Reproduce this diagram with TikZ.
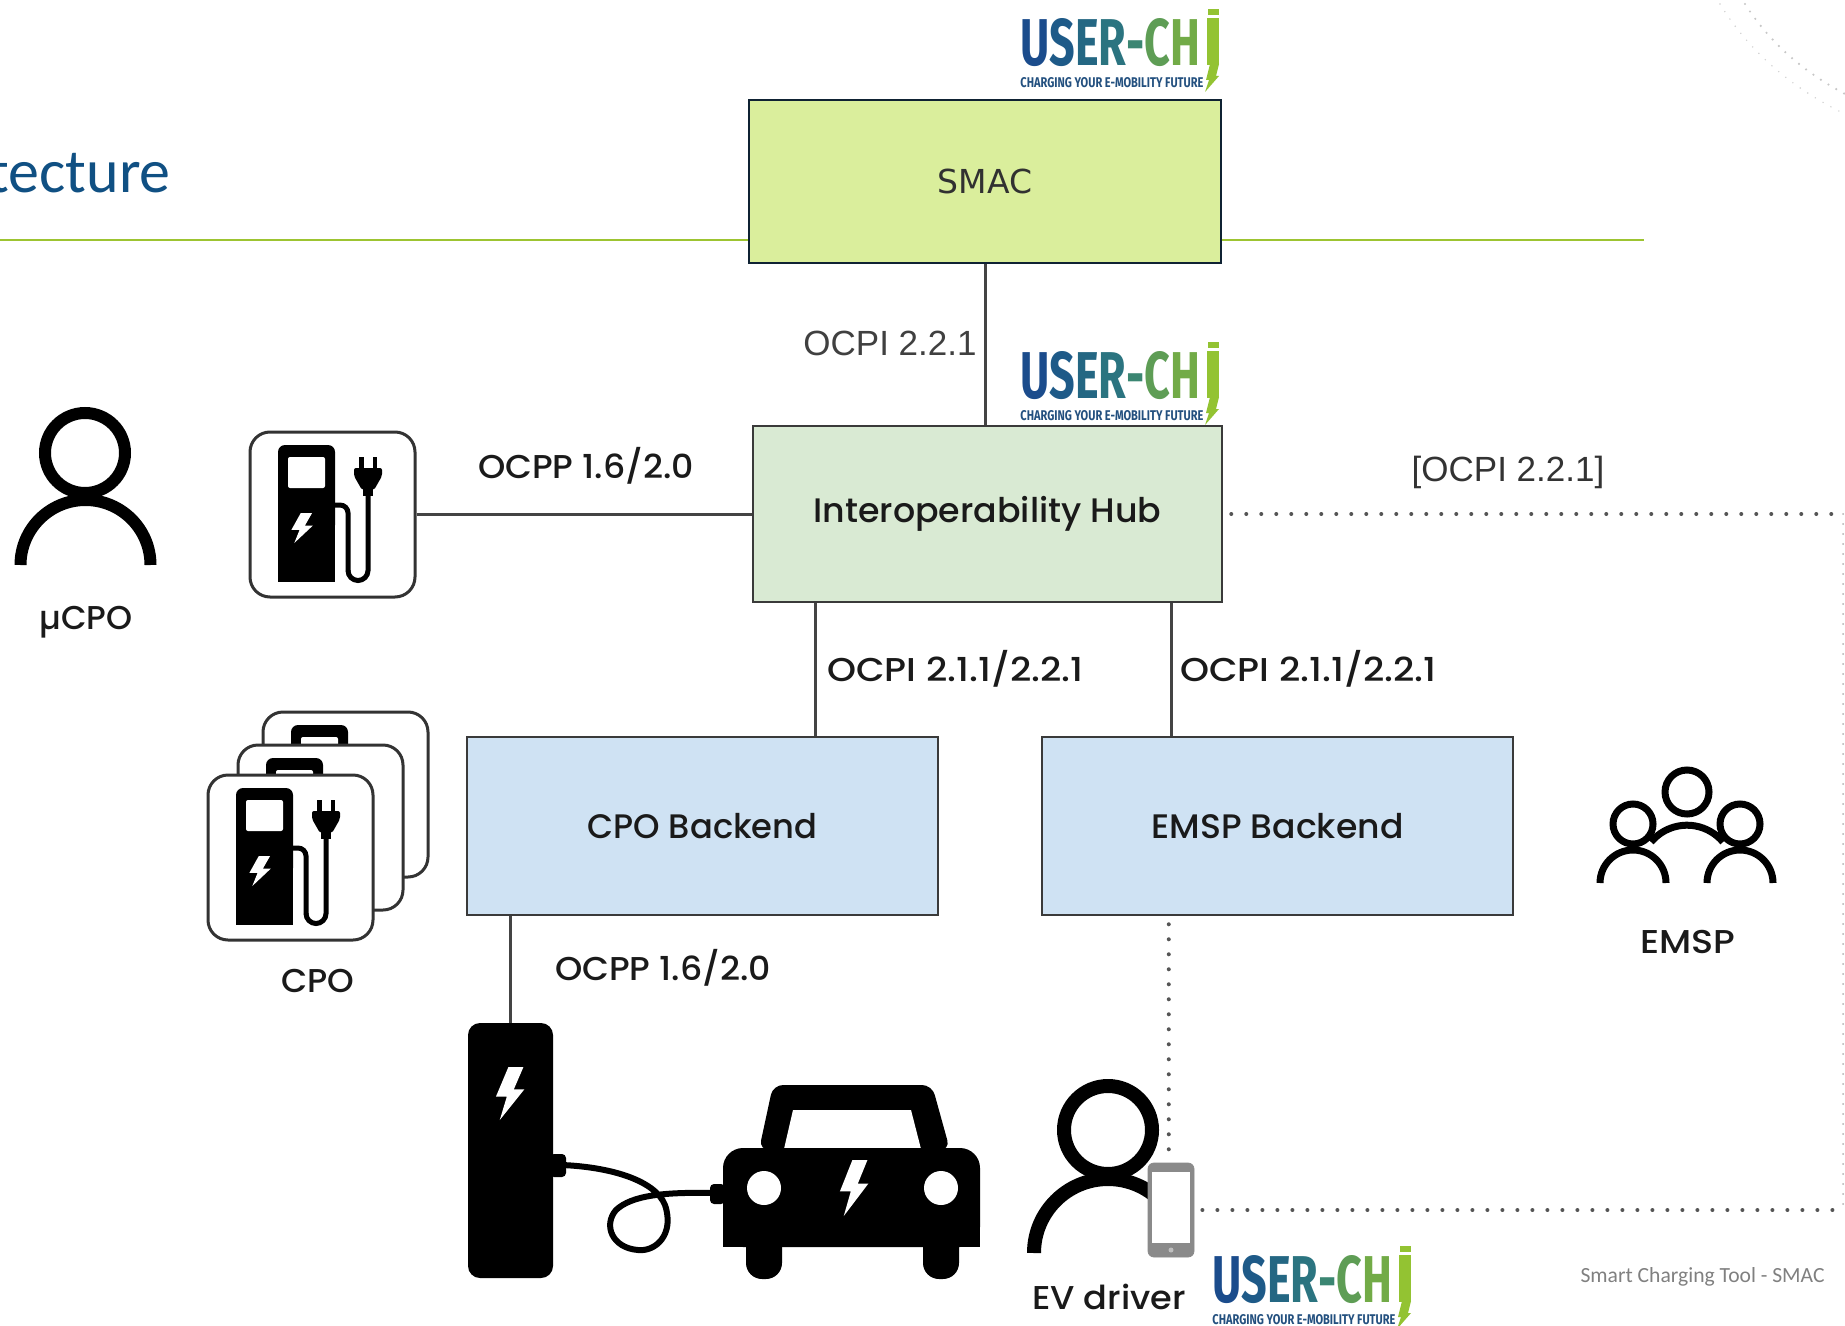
\documentclass[tikz,border=0pt]{standalone}
\usepackage{fontspec}
\usepackage{graphicx}
\setmainfont{Poppins}
\newfontfamily\rndfont{Poppins Medium}
\newfontfamily\arifont{Liberation Sans}
\newfontfamily\verfont{DejaVu Sans}
\newfontfamily\calfont{Carlito}
\newfontfamily\logofont{Fira Sans}
\usetikzlibrary{calc}

\definecolor{smacFill}{HTML}{DAEE9C}
\definecolor{smacLine}{HTML}{0F2233}
\definecolor{hubFill}{HTML}{D9EAD3}
\definecolor{backFill}{HTML}{CFE2F3}
\definecolor{boxLine}{HTML}{3A3A3A}
\definecolor{connGray}{HTML}{444444}
\definecolor{dotGray}{HTML}{555555}
\definecolor{textDark}{HTML}{1A1A1A}
\definecolor{labelGray}{HTML}{404040}
\definecolor{iconLine}{HTML}{333333}
\definecolor{titleBlue}{HTML}{105083}
\definecolor{ruleGreen}{HTML}{9DC431}
\definecolor{footGray}{HTML}{808080}
\definecolor{phoneGray}{HTML}{8A8A8A}
\definecolor{lgA}{HTML}{1B4C8C}
\definecolor{lgB}{HTML}{1E5A88}
\definecolor{lgC}{HTML}{246783}
\definecolor{lgD}{HTML}{2B7480}
\definecolor{lgE}{HTML}{3B8672}
\definecolor{lgF}{HTML}{5E9D55}
\definecolor{lgG}{HTML}{72AB47}
\definecolor{lgH}{HTML}{93C332}
\definecolor{lgT}{HTML}{23507F}

% white lightning bolt: top-left corner (#1,#2), width #3, height #4
\newcommand{\lightningbolt}[4]{%
  \fill[white] ({#1+0.45*#3},{#2}) -- ({#1+0.92*#3},{#2})
    -- ({#1+0.62*#3},{#2+0.42*#4}) -- ({#1+0.95*#3},{#2+0.42*#4})
    -- ({#1+0.18*#3},{#2+#4}) -- ({#1+0.40*#3},{#2+0.56*#4})
    -- ({#1+0.06*#3},{#2+0.56*#4}) -- cycle;}
% text stretched to a given width, keeping its height
\newcommand{\fitw}[2]{\resizebox{#1}{\height}{#2}}

\tikzset{
  conn/.style={draw=connGray, line width=1.5pt},
  dotline/.style={draw=dotGray, line width=2pt, line cap=round, dash pattern=on 0pt off 7.5pt},
  faintdot/.style={draw=black!30, line width=1pt, line cap=round, dash pattern=on 0pt off 5pt},
  mainbox/.style={draw=boxLine, line width=1.25pt, minimum width=235.5pt, minimum height=89pt,
    inner sep=0pt, font=\rndfont\fontsize{17pt}{20pt}\selectfont, text=textDark},
  lbl/.style={inner sep=0pt, font=\rndfont\fontsize{16.5pt}{20pt}\selectfont, text=textDark},
  arilbl/.style={inner sep=0pt, font=\arifont\fontsize{17.5pt}{20pt}\selectfont, text=labelGray},
  iconbox/.style={draw=iconLine, line width=1.5pt, fill=white, rounded corners=10pt,
    minimum width=82.5pt, minimum height=82.5pt, inner sep=0pt},
  person/.style={draw=black, line width=6pt},
  % pump body with its screen, inside a 165 x 165 box
  pump/.pic={
    \fill[black, rounded corners=3.5pt] (28,13) rectangle (85,100);
    \fill[black] (28,60) rectangle (85,150);
    \fill[white, rounded corners=1pt] (38,25) rectangle (75,56);
  },
  % charging pump with bolt, hose and plug
  charger/.pic={
    \pic {pump};
    \lightningbolt{40}{81}{24}{30}
    \draw[line width=2.5pt, rounded corners=4pt] (84,73) -- (98,73) -- (98,139);
    \draw[line width=2.5pt] (98,138.5) arc(180:0:10) -- (118,60);
    \fill[black, rounded corners=1pt] (104,36) -- (132,36) -- (132,44) -- (124,58) -- (112,58) -- (104,44) -- cycle;
    \fill[black] (113,56) rectangle (123,64);
    \fill[black] (109,25) rectangle (113.5,37);
    \fill[black] (122.5,25) rectangle (127,37);
  },
  % USER-CHI logo, origin at the top-left of the lettering
  userchi/.pic={
    \node[anchor=north west, inner sep=0pt, align=left, font=\fontsize{5pt}{11pt}\selectfont] (word) at (0,0)
      {\resizebox{90pt}{23.5pt}{\logofont\bfseries\textcolor{lgA}{U}\textcolor{lgB}{S}\textcolor{lgC}{E}\textcolor{lgD}{R}\textcolor{lgE}{-}\textcolor{lgF}{C}\textcolor{lgG}{H}}\\
       \resizebox{91.5pt}{5pt}{\logofont\bfseries\color{lgT}CHARGING YOUR E-MOBILITY FUTURE}};
    \fill[lgH] (187,0) rectangle (199,47);
    \fill[lgH] (188,-9) rectangle (199,-3);
    \fill[lgH] (190,46) -- (199,46) -- (196,58) -- (199,58) -- (185,74) -- (189,62) -- (186,62) -- cycle;
  },
}

\begin{document}
\begin{tikzpicture}[x=0.5pt,y=-0.5pt]
\path[use as bounding box] (0,0) rectangle (1845,1326);
\clip (0,0) rectangle (1845,1326);
\fill[white] (0,0) rectangle (1845,1326);

% slide title and rule
\node[anchor=base east, inner sep=0pt, text=titleBlue,
      font=\calfont\fontsize{31pt}{36pt}\selectfont] (title) at (171,193) {tecture};
\draw[ruleGreen, line width=1pt] (0,240) -- (1644,240);

% decorative dotted arcs in the corner
\draw[draw=black!22, line width=1.2pt, line cap=round, dash pattern=on 0pt off 4.5pt]
  (1745,4) .. controls (1768,40) and (1800,70) .. (1845,94);
\draw[draw=black!18, line width=0.8pt, line cap=round, dash pattern=on 0pt off 4.5pt]
  (1720,4) .. controls (1745,45) and (1785,85) .. (1845,114);

% main blocks
\node[draw=smacLine, fill=smacFill, line width=1.25pt, minimum width=236pt, minimum height=81.5pt,
      inner sep=0pt, text=textDark!90, font=\verfont\fontsize{16.5pt}{20pt}\selectfont]
      (smac) at (985,181.5) {SMAC};
\node[mainbox, fill=hubFill, minimum width=234.5pt, minimum height=88pt]
      (hub) at (987.5,514) {\fitw{174pt}{Interoperability Hub}};
\node[mainbox, fill=backFill] (cpoB) at (702.5,826) {\fitw{115pt}{CPO Backend}};
\node[mainbox, fill=backFill] (emspB) at (1277.5,826) {\fitw{126pt}{EMSP Backend}};

% logos
\pic (logoA) at (1020,18) {userchi};
\pic (logoB) at (1020,351) {userchi};
\pic (logoC) at (1212,1255) {userchi};

% micro CPO: person and charger
\draw[person] (85,453) circle (40);
\draw[person] (20.5,565) arc(180:360:65);
\node[lbl] (ucpoLbl) at (86,622) {\fitw{46.5pt}{µCPO}};
\node[iconbox] (ucpoSt) at (332.5,514.5) {};
\pic at (250,432) {charger};

% CPO: stacked chargers
\node[iconbox] (cpoSt1) at (345.5,794.5) {};
\pic at (263,712) {pump};
\node[iconbox] (cpoSt2) at (320.5,827.5) {};
\pic at (238,745) {pump};
\node[iconbox] (cpoSt3) at (290.5,857.5) {};
\pic at (208,775) {charger};
\node[lbl] (cpoLbl) at (318,981) {\fitw{36.5pt}{CPO}};

% EMSP: group of people
\draw[draw=black, line width=3.5pt] (1651,842) arc(220:320:47);
\draw[draw=black, line width=3.5pt] (1600,883) arc(180:360:33);
\draw[draw=black, line width=3.5pt] (1707,883) arc(180:360:33);
\draw[draw=black, fill=white, line width=3.5pt] (1633,824) circle (20);
\draw[draw=black, fill=white, line width=3.5pt] (1740,824) circle (20);
\draw[draw=black, fill=white, line width=3.5pt] (1687,792) circle (22);
\node[lbl] (emspLbl) at (1688,942) {\fitw{47.5pt}{EMSP}};

% charging post, cable and car
\node[fill=black, rounded corners=6pt, minimum width=42.5pt, minimum height=127.5pt, inner sep=0pt]
      (post) at (510.5,1150.5) {};
\lightningbolt{494}{1067}{32}{53}
\fill[black, rounded corners=2pt] (550,1154) rectangle (566,1177);
\draw[black, line width=3pt]
  (562,1165) .. controls (610,1167) and (655,1180) .. (665,1205)
  .. controls (675,1235) and (655,1252) .. (638,1250)
  .. controls (612,1248) and (603,1225) .. (616,1210)
  .. controls (632,1195) and (665,1192) .. (714,1193);
\fill[black, rounded corners=2pt] (710,1184) rectangle (725,1204);
\fill[black, rounded corners=5pt] (759,1150) -- (773,1085) -- (932,1085) -- (950,1150) -- cycle;
\fill[white] (793,1110) -- (911,1110) -- (921,1149) -- (784,1149) -- cycle;
\fill[black, rounded corners=10pt] (723,1148) rectangle (980,1247);
\fill[black] (723,1200) rectangle (980,1247);
\fill[black, rounded corners=8pt] (746,1225) rectangle (782,1279);
\fill[black, rounded corners=8pt] (923,1225) rectangle (959,1279);
\fill[white] (764,1188) circle (17);
\fill[white] (941,1188) circle (17);
\lightningbolt{838}{1160}{32}{56}

% EV driver with phone
\draw[person, line width=7pt] (1108,1130) circle (44);
\draw[person, line width=7pt] (1034,1253) arc(180:360:74);
\node[fill=phoneGray, draw=phoneGray, rounded corners=3pt, minimum width=23pt, minimum height=47pt,
      inner sep=0pt] (phone) at (1171,1210) {};
\fill[white] (1152,1172) rectangle (1190,1243);
\fill[black!25] (1171,1250) circle (2.5);
\node[lbl] (evLbl) at (1109,1297) {\fitw{77pt}{EV driver}};

% connectors
\draw[conn] (smac.south) -- (smac.south |- hub.north);
\draw[conn] (ucpoSt.east) -- (ucpoSt.east -| hub.west);
\coordinate (hubL) at ($(hub.south west)+(64,0)$);
\draw[conn] (hubL) -- (hubL |- cpoB.north);
\coordinate (hubR) at ($(hub.south east)+(-52,0)$);
\draw[conn] (hubR) -- (hubR |- emspB.north);
\draw[conn] (post.north) -- (post.north |- cpoB.south);
\coordinate (edgeTop) at (1843,514);
\coordinate (edgeBot) at (1843,1210);
\draw[dotline] ($(hub.east)+(8,0)$) -- (edgeTop);
\draw[faintdot] (edgeTop) -- (edgeBot);
\coordinate (emspD) at ($(emspB.south west)+(128,0)$);
\draw[dotline] ($(emspD)+(0,8)$) -- (emspD |- phone.north);
\draw[dotline] ($(phone.east)+(8,0)$) -- (edgeBot);

% connector labels
\node[arilbl, anchor=base east] (lblA) at (977,356) {OCPI 2.2.1};
\node[lbl] (lblB) at (586,466) {\fitw{108pt}{OCPP 1.6/2.0}};
\node[arilbl, text=black!80] (lblC) at (1508,472) {[OCPI 2.2.1]};
\node[lbl, anchor=west] (lblD) at (827,669) {\fitw{128pt}{OCPI 2.1.1/2.2.1}};
\node[lbl, anchor=west] (lblE) at (1180,669) {\fitw{128pt}{OCPI 2.1.1/2.2.1}};
\node[lbl] (lblF) at (663,968) {\fitw{108pt}{OCPP 1.6/2.0}};

% footer
\node[anchor=base east, inner sep=0pt, text=footGray, font=\calfont\fontsize{10.8pt}{12pt}\selectfont]
      (foot) at (1825,1282) {Smart Charging Tool - SMAC};
\end{tikzpicture}
\end{document}
